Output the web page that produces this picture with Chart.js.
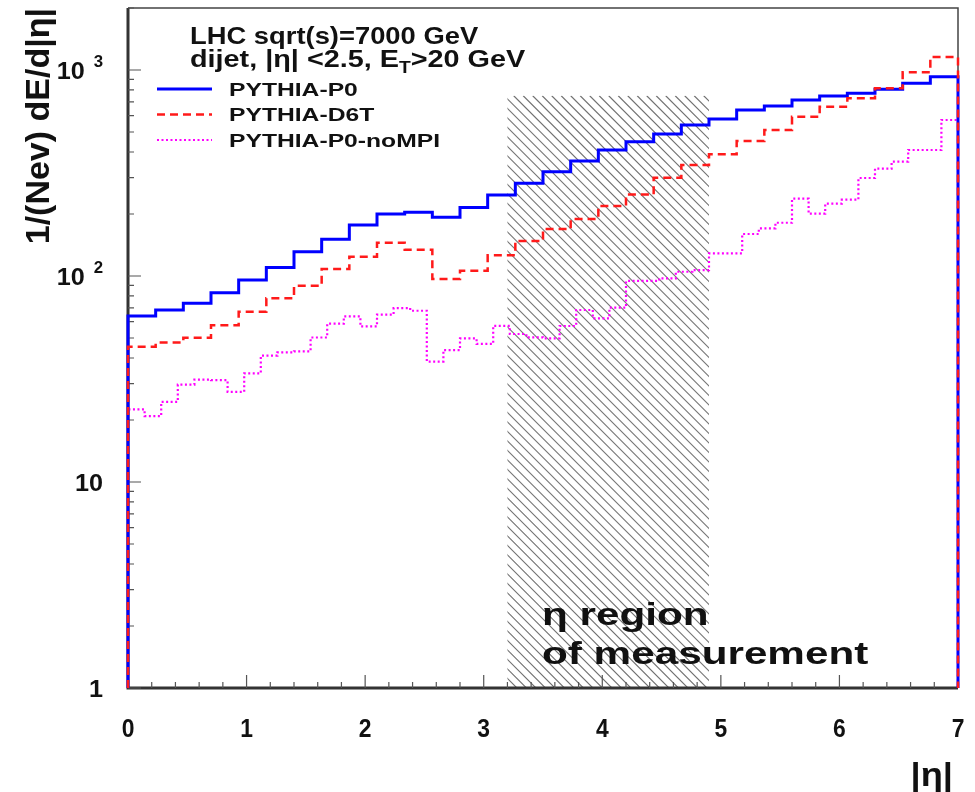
<!DOCTYPE html>
<html>
<head>
<meta charset="utf-8">
<script src="https://cdn.jsdelivr.net/npm/chart.js@4.4.1/dist/chart.umd.min.js"></script>
<style>
  html, body { margin: 0; padding: 0; background: #ffffff; }
  canvas { display: block; }
</style>
</head>
<body>
<canvas id="chart" width="975" height="792"></canvas>
<script>
// |eta| range covered by the histograms
const etaRange = [0, 7];
// vertical axis range, 1/(Nev) dE/d|eta|
const yRange = [1, 2000];

// PYTHIA-P0, 30 bins over 0 < |eta| < 7
const pythiaP0 = [
  63.9, 68.4, 73.7, 83.0, 95.6, 110, 131, 151, 177, 200,
  204, 193, 215, 247, 282, 321, 362, 409, 449, 489,
  541, 578, 640, 669, 715, 748, 771, 806, 862, 928
];

// PYTHIA-D6T, 30 bins over 0 < |eta| < 7
const pythiaD6T = [
  45.4, 47.5, 50.2, 57.6, 67.1, 77.9, 89.7, 108, 124, 145,
  134, 96.7, 106, 126, 148, 169, 189, 219, 249, 300,
  346, 390, 452, 511, 593, 664, 729, 815, 975, 1156
];

// PYTHIA-P0 without multiple parton interactions, 50 bins over 0 < |eta| < 7
const pythiaP0noMPI = [
  22.5, 20.9, 24.5, 29.7, 31.4, 31.2, 27.4, 33.7, 41.1, 42.6,
  43.1, 50.3, 58.7, 63.7, 56.9, 65.0, 69.9, 67.8, 38.4, 43.7,
  49.8, 46.8, 57.3, 52.3, 50.4, 49.8, 57.2, 68.4, 62.3, 70.2,
  94.6, 94.6, 97.4, 104.9, 106.9, 128.9, 128.9, 159.9, 170.4, 181.4,
  237.3, 200.7, 224.4, 234.6, 299, 331.8, 358.8, 409, 409, 572
];

// axis labels
const xTickValues = [0, 1, 2, 3, 4, 5, 6, 7];
const xTickLabels = ['0', '1', '2', '3', '4', '5', '6', '7'];
const yTickValues = [1, 10, 100, 1000];
const yTickLabels = [['1', ''], ['10', ''], ['10', '2'], ['10', '3']];

// |eta| window of the measurement and the height of its shaded box
const measuredRegion = [3.2, 4.9];
const measuredRegionTop = 750;

const FONT = '"Liberation Sans", Arial, Helvetica, sans-serif';

// closed histogram outline: up from the floor, across every bin, back down
function histogramOutline(values) {
  const w = (etaRange[1] - etaRange[0]) / values.length;
  const pts = [{ x: etaRange[0], y: yRange[0] }];
  values.forEach((v, i) => pts.push({ x: etaRange[0] + i * w, y: v }));
  pts.push({ x: etaRange[1], y: values[values.length - 1] });
  pts.push({ x: etaRange[1], y: yRange[0] });
  return pts;
}

function drawText(ctx, str, x, y, size, sx, align, weight) {
  ctx.save();
  ctx.font = (weight || 'bold') + ' ' + size + 'px ' + FONT;
  ctx.textAlign = align || 'left';
  ctx.textBaseline = 'alphabetic';
  ctx.fillStyle = '#111';
  ctx.translate(x, y);
  ctx.scale(sx, 1);
  ctx.fillText(str, 0, 0);
  const w = ctx.measureText(str).width * sx;
  ctx.restore();
  return w;
}

function textWidth(ctx, str, size, sx, weight) {
  ctx.save();
  ctx.font = (weight || 'bold') + ' ' + size + 'px ' + FONT;
  const w = ctx.measureText(str).width * sx;
  ctx.restore();
  return w;
}

// shaded measurement window, drawn under the histograms
const regionPlugin = {
  id: 'measuredRegion',
  beforeDatasetsDraw(chart) {
    const { ctx } = chart;
    const xs = chart.scales.x, ys = chart.scales.y;
    const x1 = xs.getPixelForValue(measuredRegion[0]);
    const x2 = xs.getPixelForValue(measuredRegion[1]);
    const y1 = ys.getPixelForValue(measuredRegionTop);
    const y2 = ys.getPixelForValue(yRange[0]);
    const h = y2 - y1;
    ctx.save();
    ctx.beginPath();
    ctx.rect(x1, y1, x2 - x1, h);
    ctx.clip();
    ctx.strokeStyle = 'rgba(55,55,55,0.7)';
    ctx.lineWidth = 1.1;
    ctx.beginPath();
    for (let c = x1 - h; c < x2 + 2; c += 9.5) {
      ctx.moveTo(c, y1);
      ctx.lineTo(c + h, y2);
    }
    ctx.stroke();
    ctx.restore();
  }
};

// frame, inward ticks and the axis labels
const framePlugin = {
  id: 'rootFrame',
  beforeDatasetsDraw(chart) {
    const { ctx, chartArea: a } = chart;
    const xs = chart.scales.x, ys = chart.scales.y;
    ctx.save();
    // top and right edges
    ctx.strokeStyle = '#444';
    ctx.lineWidth = 1.5;
    ctx.beginPath();
    ctx.moveTo(a.left, a.top);
    ctx.lineTo(a.right, a.top);
    ctx.lineTo(a.right, a.bottom);
    ctx.stroke();
    // axes
    ctx.strokeStyle = '#333';
    ctx.lineWidth = 3;
    ctx.beginPath();
    ctx.moveTo(a.left, a.top);
    ctx.lineTo(a.left, a.bottom);
    ctx.lineTo(a.right, a.bottom);
    ctx.stroke();
    // x ticks: major every unit, minor every 0.2
    ctx.strokeStyle = '#555';
    ctx.lineWidth = 1.2;
    ctx.beginPath();
    for (let k = 0; k <= 35; k++) {
      const v = etaRange[0] + k * 0.2;
      const px = xs.getPixelForValue(v);
      const len = (k % 5 === 0) ? 13 : 6;
      ctx.moveTo(px, a.bottom);
      ctx.lineTo(px, a.bottom - len);
    }
    // y ticks: decades long, 2..9 short
    for (let d = 1; d <= yRange[1]; d *= 10) {
      for (let m = 1; m <= 9; m++) {
        const v = d * m;
        if (v > yRange[1]) break;
        const py = ys.getPixelForValue(v);
        const len = (m === 1) ? 13 : 6;
        ctx.moveTo(a.left, py);
        ctx.lineTo(a.left + len, py);
      }
    }
    ctx.stroke();
    ctx.restore();
  },
  afterDatasetsDraw(chart) {
    const { ctx, chartArea: a } = chart;
    const xs = chart.scales.x, ys = chart.scales.y;

    // x tick labels
    xTickValues.forEach((v, i) => {
      drawText(ctx, xTickLabels[i], xs.getPixelForValue(v), 737, 26, 0.88, 'center');
    });
    // y tick labels, with raised exponents
    const labelRight = 103;
    yTickValues.forEach((v, i) => {
      const py = ys.getPixelForValue(v);
      const [mant, exp] = yTickLabels[i];
      if (exp) {
        const ew = textWidth(ctx, exp, 16, 1.05);
        drawText(ctx, exp, labelRight, py - 3, 16, 1.05, 'right');
        drawText(ctx, mant, labelRight - ew - 9, py + 9, 24, 1.05, 'right');
      } else {
        drawText(ctx, mant, labelRight, py + 9, 24, 1.05, 'right');
      }
    });

    // axis titles
    drawText(ctx, '|\u03b7|', 953, 786, 33, 1.1, 'right');
    ctx.save();
    ctx.translate(49, a.top);
    ctx.rotate(-Math.PI / 2);
    drawText(ctx, '1/(Nev) dE/d|\u03b7|', 0, 0, 34, 1.0, 'right');
    ctx.restore();

    // header
    drawText(ctx, 'LHC sqrt(s)=7000 GeV', 190, 44, 24, 1.14, 'left');
    const sxLine2 = 1.2;
    let x = 190;
    x += drawText(ctx, 'dijet, |\u03b7| <2.5, E', x, 67, 24, sxLine2, 'left');
    x += drawText(ctx, 'T', x, 73, 16, sxLine2, 'left');
    drawText(ctx, '>20 GeV', x, 67, 24, sxLine2, 'left');

    // legend, styled from the datasets
    chart.data.datasets.forEach((ds, i) => {
      const ly = 89 + i * 25.5;
      ctx.save();
      ctx.strokeStyle = ds.borderColor;
      ctx.lineWidth = ds.borderWidth;
      ctx.setLineDash(ds.borderDash || []);
      ctx.beginPath();
      ctx.moveTo(157, ly);
      ctx.lineTo(212, ly);
      ctx.stroke();
      ctx.restore();
      drawText(ctx, ds.label, 229, ly + 6.5, 18, 1.37, 'left');
    });

    // note on the shaded window
    drawText(ctx, '\u03b7 region', 542, 625, 32, 1.32, 'left');
    drawText(ctx, 'of measurement', 542, 664, 32, 1.32, 'left');
  }
};

const chart = new Chart(document.getElementById('chart'), {
  type: 'line',
  data: {
    datasets: [
      {
        label: 'PYTHIA-P0',
        data: histogramOutline(pythiaP0),
        borderColor: '#0000ff',
        borderWidth: 3,
        stepped: true,
        order: 1
      },
      {
        label: 'PYTHIA-D6T',
        data: histogramOutline(pythiaD6T),
        borderColor: '#ff1a1a',
        borderWidth: 2.5,
        borderDash: [8, 5],
        stepped: true,
        order: 0
      },
      {
        label: 'PYTHIA-P0-noMPI',
        data: histogramOutline(pythiaP0noMPI),
        borderColor: '#ff00ff',
        borderWidth: 2.2,
        borderDash: [2, 2.5],
        stepped: true,
        order: 2
      }
    ]
  },
  options: {
    responsive: false,
    animation: false,
    devicePixelRatio: 1,
    clip: false,
    layout: { padding: { top: 8, right: 17, left: 0, bottom: 0 } },
    elements: {
      point: { radius: 0, hoverRadius: 0 },
      line: { tension: 0, fill: false, borderCapStyle: 'butt', borderJoinStyle: 'miter' }
    },
    plugins: {
      legend: { display: false },
      tooltip: { enabled: false },
      title: { display: false }
    },
    scales: {
      x: {
        type: 'linear',
        min: etaRange[0],
        max: etaRange[1],
        bounds: 'data',
        grid: { display: false },
        border: { display: false },
        ticks: { display: false },
        afterFit(scale) { scale.height = 104; }
      },
      y: {
        type: 'logarithmic',
        min: yRange[0],
        max: yRange[1],
        bounds: 'data',
        grid: { display: false },
        border: { display: false },
        ticks: { display: false },
        afterFit(scale) { scale.width = 128; }
      }
    }
  },
  plugins: [regionPlugin, framePlugin]
});
</script>
</body>
</html>
